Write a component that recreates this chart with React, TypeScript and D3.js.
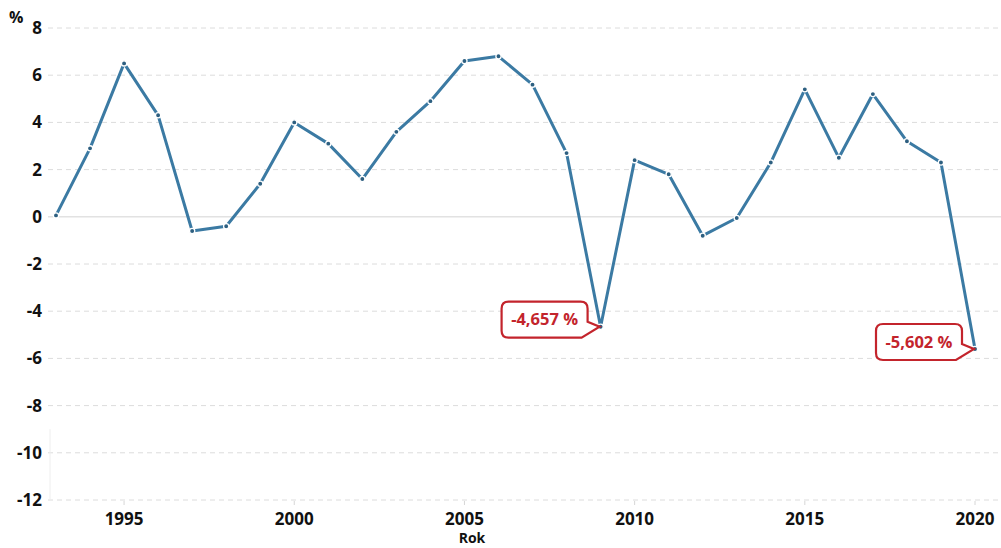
import React from "react";
import * as d3 from "d3";

const years = [1993,1994,1995,1996,1997,1998,1999,2000,2001,2002,2003,2004,2005,2006,2007,2008,2009,2010,2011,2012,2013,2014,2015,2016,2017,2018,2019,2020];
const growth = [0.06,2.9,6.5,4.3,-0.6,-0.4,1.4,4.0,3.1,1.6,3.6,4.9,6.6,6.8,5.6,2.7,-4.657,2.4,1.8,-0.8,-0.05,2.3,5.4,2.5,5.2,3.2,2.3,-5.602];
const yTicks = [8,6,4,2,0,-2,-4,-6,-8,-10,-12];
const xTicks = [1995,2000,2005,2010,2015,2020];
const callouts = [
  { year: 2009, value: -4.657, label: "-4,657 %" },
  { year: 2020, value: -5.602, label: "-5,602 %" },
];

const W = 1001, H = 548;
const font = "'Open Sans', 'DejaVu Sans', sans-serif";

export default function App() {
  const x = d3.scaleLinear().domain([1993, 2020]).range([56, 975]);
  const y = d3.scaleLinear().domain([-12, 8]).range([500, 28]);
  const line = d3.line<number>().x((_, i) => x(years[i])).y((d) => y(d));
  const lineColor = "#3b7aa3";
  const red = "#c3242c";

  const calloutPath = (tipX: number, tipY: number) => {
    const bw = 86, bh = 36, r = 7;
    const x1 = tipX - 13, x0 = x1 - bw;
    const y1 = tipY + 11, y0 = y1 - bh;
    return `M${x0 + r},${y0} L${x1 - r},${y0} Q${x1},${y0} ${x1},${y0 + r} L${x1},${tipY - 5} L${tipX - 1},${tipY} L${x1 - 6},${y1} L${x0 + r},${y1} Q${x0},${y1} ${x0},${y1 - r} L${x0},${y0 + r} Q${x0},${y0} ${x0 + r},${y0} Z`;
  };

  return (
    <svg width={W} height={H} style={{ position: "absolute", left: 0, top: 0, background: "#fff" }} fontFamily={font}>
      {yTicks.map((t) => (
        <g key={t}>
          <line x1={48} x2={1001} y1={y(t)} y2={y(t)} stroke={t === 0 ? "#e2e2e2" : "#dcdcdc"} strokeWidth={t === 0 ? 1.5 : 1} strokeDasharray={t === 0 ? undefined : "5,4"} />
          <text x={42} y={y(t)} dy="0.35em" textAnchor="end" fontSize={17} fontWeight={700} fill="#111">{t}</text>
        </g>
      ))}
      <line x1={50} x2={50} y1={y(-9)} y2={y(-12)} stroke="#eeeeee" strokeWidth={1} />
      <text x={9} y={23} fontSize={16} fontWeight={700} fill="#111">%</text>
      {xTicks.map((t) => (
        <g key={t}>
          <line x1={x(t)} x2={x(t)} y1={501} y2={505} stroke="#d6d6d6" />
          <text x={x(t)} y={525} textAnchor="middle" fontSize={17} fontWeight={700} fill="#111">{t}</text>
        </g>
      ))}
      <text x={472} y={543} textAnchor="middle" fontSize={14} fontWeight={700} fill="#111">Rok</text>
      <path d={line(growth) || ""} fill="none" stroke={lineColor} strokeWidth={3} strokeLinejoin="round" />
      {growth.map((v, i) => (
        <circle key={i} cx={x(years[i])} cy={y(v)} r={2.6} fill="#2d5f80" stroke="#fff" strokeWidth={1.3} />
      ))}
      {callouts.map((c) => {
        const tx = x(c.year), ty = y(c.value);
        return (
          <g key={c.year}>
            <path d={calloutPath(tx, ty)} fill="#fff" stroke={red} strokeWidth={2.2} />
            <text x={tx - 13 - 43} y={ty + 11 - 18} dy="0.35em" textAnchor="middle" fontSize={16.5} fontWeight={700} fill={red}>{c.label}</text>
          </g>
        );
      })}
    </svg>
  );
}
